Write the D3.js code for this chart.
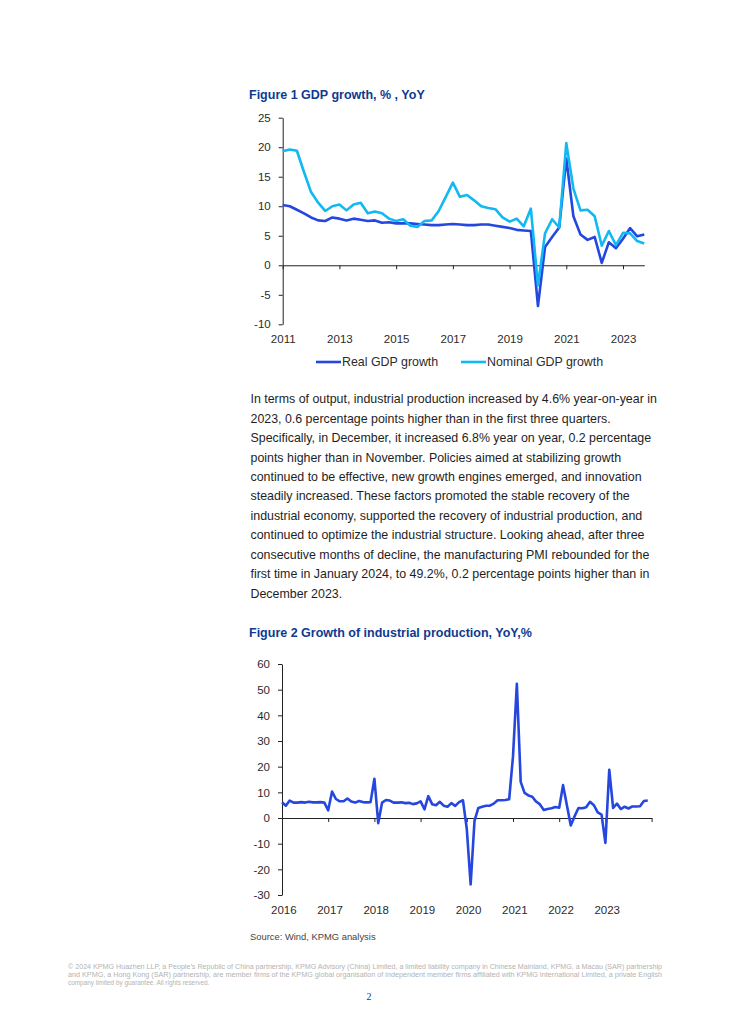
<!DOCTYPE html>
<head>
    <meta charset="utf-8">
    <script src="https://cdn.jsdelivr.net/npm/d3@7"></script>
    <style>
        body { margin: 0; background: #fff; }
        text { font-family: "Liberation Sans", Arial, sans-serif; }
    </style>
</head>
<body>
    <div id="page"></div>
    <script>

        // Figure 1 : quarterly GDP growth, 2011Q1 - 2023Q4
        const gdpYears = [2011, 2013, 2015, 2017, 2019, 2021, 2023];
        const realGdp = [
            10.2, 10.0, 9.4, 8.8,
            8.1, 7.6, 7.5, 8.1,
            7.9, 7.6, 7.9, 7.7,
            7.5, 7.6, 7.2, 7.3,
            7.1, 7.1, 7.1, 7.0,
            6.9, 6.8, 6.8, 6.9,
            7.0, 6.9, 6.8, 6.8,
            6.9, 6.9, 6.7, 6.5,
            6.3, 6.0, 5.9, 5.8,
            -6.9, 3.1, 4.8, 6.4,
            18.1, 8.3, 5.2, 4.3,
            4.8, 0.4, 3.9, 2.9,
            4.5, 6.3, 4.9, 5.2];
        const nominalGdp = [
            19.3, 19.6, 19.4, 15.8,
            12.4, 10.6, 9.2, 10.0,
            10.3, 9.3, 10.3, 10.6,
            8.8, 9.1, 8.8, 7.9,
            7.5, 7.8, 6.7, 6.5,
            7.5, 7.6, 9.2, 11.6,
            14.0, 11.6, 11.9, 11.0,
            10.0, 9.7, 9.5, 8.1,
            7.4, 7.9, 6.6, 9.6,
            -3.4, 5.4, 7.8, 6.4,
            20.7, 13.0, 9.3, 9.4,
            8.3, 3.3, 5.8, 3.4,
            5.5, 5.4, 4.1, 3.7];
        const gdpTicks = [-10, -5, 0, 5, 10, 15, 20, 25];
        const gdpSeries = ["Real GDP growth", "Nominal GDP growth"];

        // Figure 2 : monthly industrial production, Jan 2016 - Dec 2023
        const ipYears = [2016, 2017, 2018, 2019, 2020, 2021, 2022, 2023];
        const industrial = [
            6.1, 4.8, 6.8, 6.0, 6.0, 6.2, 6.0, 6.3, 6.1, 6.1, 6.2, 6.0,
            3.0, 10.3, 7.4, 6.5, 6.5, 7.6, 6.4, 6.0, 6.6, 6.2, 6.1, 6.2,
            15.3, -2.0, 6.0, 7.0, 6.8, 6.0, 6.0, 6.1, 5.8, 5.9, 5.4, 5.7,
            6.5, 3.4, 8.5, 5.4, 5.0, 6.3, 4.8, 4.4, 5.8, 4.7, 6.2, 6.9,
            -4.3, -25.9, -1.1, 3.9, 4.4, 4.8, 4.8, 5.6, 6.9, 6.9, 7.0, 7.3,
            24.0, 52.3, 14.1, 9.8, 8.8, 8.3, 6.4, 5.3, 3.1, 3.5, 3.8, 4.3,
            4.0, 12.8, 5.0, -2.9, 0.7, 3.9, 3.8, 4.2, 6.3, 5.0, 2.2, 1.3,
            -9.7, 18.8, 3.9, 5.6, 3.5, 4.4, 3.7, 4.5, 4.5, 4.6, 6.6, 6.8];
        const ipTicks = [-30, -20, -10, 0, 10, 20, 30, 40, 50, 60];

        const paragraph = [
            "In terms of output, industrial production increased by 4.6% year-on-year in",
            "2023, 0.6 percentage points higher than in the first three quarters.",
            "Specifically, in December, it increased 6.8% year on year, 0.2 percentage",
            "points higher than in November. Policies aimed at stabilizing growth",
            "continued to be effective, new growth engines emerged, and innovation",
            "steadily increased. These factors promoted the stable recovery of the",
            "industrial economy, supported the recovery of industrial production, and",
            "continued to optimize the industrial structure. Looking ahead, after three",
            "consecutive months of decline, the manufacturing PMI rebounded for the",
            "first time in January 2024, to 49.2%, 0.2 percentage points higher than in",
            "December 2023."];

        const footer = [
            "\u00a9 2024 KPMG Huazhen LLP, a People\u2019s Republic of China partnership, KPMG Advisory (China) Limited, a limited liability company in Chinese Mainland, KPMG, a Macau (SAR) partnership",
            "and KPMG, a Hong Kong (SAR) partnership, are member firms of the KPMG global organisation of independent member firms affiliated with KPMG International Limited, a private English",
            "company limited by guarantee.  All rights reserved."];

        const width = 730, height = 1024;
        const blue = "#0f3a8f", realColor = "#2547e0", nominalColor = "#10b9f2", ink = "#2b2b2b";

        const svg = d3.select("#page").append("svg")
            .attr("width", width)
            .attr("height", height);

        svg.append("rect").attr("width", width).attr("height", height).attr("fill", "#fff");

        // plain hyphen for negatives, like the original
        const plain = d => String(d);

        // styling shared by both charts' axes
        function styleAxis(g) {
            g.selectAll("path.domain").attr("stroke", "#222").attr("stroke-width", 1);
            g.selectAll(".tick line").attr("stroke", "#222");
            g.selectAll(".tick text").attr("fill", ink).style("font-size", "11.5px")
                .style("font-family", "'Liberation Sans', Arial, sans-serif");
        }

        // ---------- Figure 1 ----------
        svg.append("text").attr("x", 249).attr("y", 99)
            .attr("fill", blue).style("font-size", "12.5px").style("font-weight", "bold")
            .text("Figure 1 GDP growth, % , YoY");

        const x1 = d3.scaleLinear().domain([0, realGdp.length - 1]).range([282.7, 644.3]);
        const y1 = d3.scaleLinear().domain([-10, 25]).range([324.3, 117.7]);

        svg.append("g").attr("transform", "translate(282.7,0)")
            .call(d3.axisLeft(y1).tickValues(gdpTicks).tickSize(4).tickPadding(8).tickSizeOuter(0).tickFormat(plain))
            .call(styleAxis);

        // zero line with year ticks, labels at the bottom
        svg.append("g").attr("transform", `translate(0,${y1(0)})`)
            .call(d3.axisBottom(x1).tickValues(gdpYears.map((d, i) => i * 8)).tickSize(4).tickSizeOuter(0).tickFormat(""))
            .call(styleAxis);
        svg.append("g").attr("transform", `translate(0,${y1(-10)})`)
            .call(d3.axisBottom(x1).tickValues(gdpYears.map((d, i) => i * 8)).tickSize(0).tickPadding(11)
                .tickFormat((d, i) => gdpYears[i]))
            .call(styleAxis)
            .call(g => g.select(".domain").remove());

        const line1 = d3.line().x((d, i) => x1(i)).y(d => y1(d));

        svg.append("path").datum(realGdp).attr("d", line1)
            .attr("fill", "none").attr("stroke", realColor).attr("stroke-width", 2.6).attr("stroke-linejoin", "round");
        svg.append("path").datum(nominalGdp).attr("d", line1)
            .attr("fill", "none").attr("stroke", nominalColor).attr("stroke-width", 2.6).attr("stroke-linejoin", "round");

        // legend
        const legend = svg.append("g").attr("transform", "translate(316,362)");
        const legendX = [0, 145];
        gdpSeries.forEach(function (name, i) {
            legend.append("line").attr("x1", legendX[i]).attr("x2", legendX[i] + 25).attr("y1", 0).attr("y2", 0)
                .attr("stroke", i === 0 ? realColor : nominalColor).attr("stroke-width", 2.6);
            legend.append("text").attr("x", legendX[i] + 26).attr("y", 4.4)
                .attr("fill", ink).style("font-size", "12.4px").text(name);
        });

        // ---------- paragraph ----------
        svg.append("g").selectAll("text")
            .data(paragraph)
            .join("text")
            .attr("x", 250.5)
            .attr("y", (d, i) => 403.3 + i * 19.43)
            .attr("fill", "#1e1e1e")
            .style("font-size", "12.4px")
            .text(d => d);

        // ---------- Figure 2 ----------
        svg.append("text").attr("x", 249).attr("y", 637)
            .attr("fill", blue).style("font-size", "12.5px").style("font-weight", "bold")
            .text("Figure 2 Growth of industrial production, YoY,%");

        const x2 = d3.scaleLinear().domain([0, 96]).range([282, 651.6]);
        const y2 = d3.scaleLinear().domain([-30, 60]).range([895, 664]);

        svg.append("g").attr("transform", "translate(282,0)")
            .call(d3.axisLeft(y2).tickValues(ipTicks).tickSize(4).tickPadding(8).tickSizeOuter(0).tickFormat(plain))
            .call(styleAxis);

        svg.append("g").attr("transform", `translate(0,${y2(0)})`)
            .call(d3.axisBottom(x2).tickValues(d3.range(0, 97, 12)).tickSize(4).tickSizeOuter(0).tickFormat(""))
            .call(styleAxis);
        svg.append("g").attr("transform", `translate(1.3,${y2(-30)})`)
            .call(d3.axisBottom(x2).tickValues(ipYears.map((d, i) => i * 12)).tickSize(0).tickPadding(11)
                .tickFormat((d, i) => ipYears[i]))
            .call(styleAxis)
            .call(g => g.select(".domain").remove());

        const line2 = d3.line().x((d, i) => x2(i)).y(d => y2(d));
        svg.append("path").datum(industrial).attr("d", line2)
            .attr("fill", "none").attr("stroke", realColor).attr("stroke-width", 2.6).attr("stroke-linejoin", "round");

        svg.append("text").attr("x", 250).attr("y", 940)
            .attr("fill", "#444").style("font-size", "9.4px")
            .text("Source: Wind, KPMG analysis");

        // ---------- footer ----------
        svg.append("g").selectAll("text")
            .data(footer)
            .join("text")
            .attr("x", 68)
            .attr("y", (d, i) => 969 + i * 8)
            .attr("fill", "#b3b3b3")
            .style("font-size", "6.4px")
            .attr("textLength", (d, i) => i < 2 ? 594 : null)
            .attr("lengthAdjust", "spacingAndGlyphs")
            .text(d => d);

        svg.append("text").attr("x", 369).attr("y", 1000).attr("text-anchor", "middle")
            .attr("fill", blue).style("font-size", "10px").style("font-family", "'Liberation Serif', serif")
            .text("2");

    </script>
</body>
